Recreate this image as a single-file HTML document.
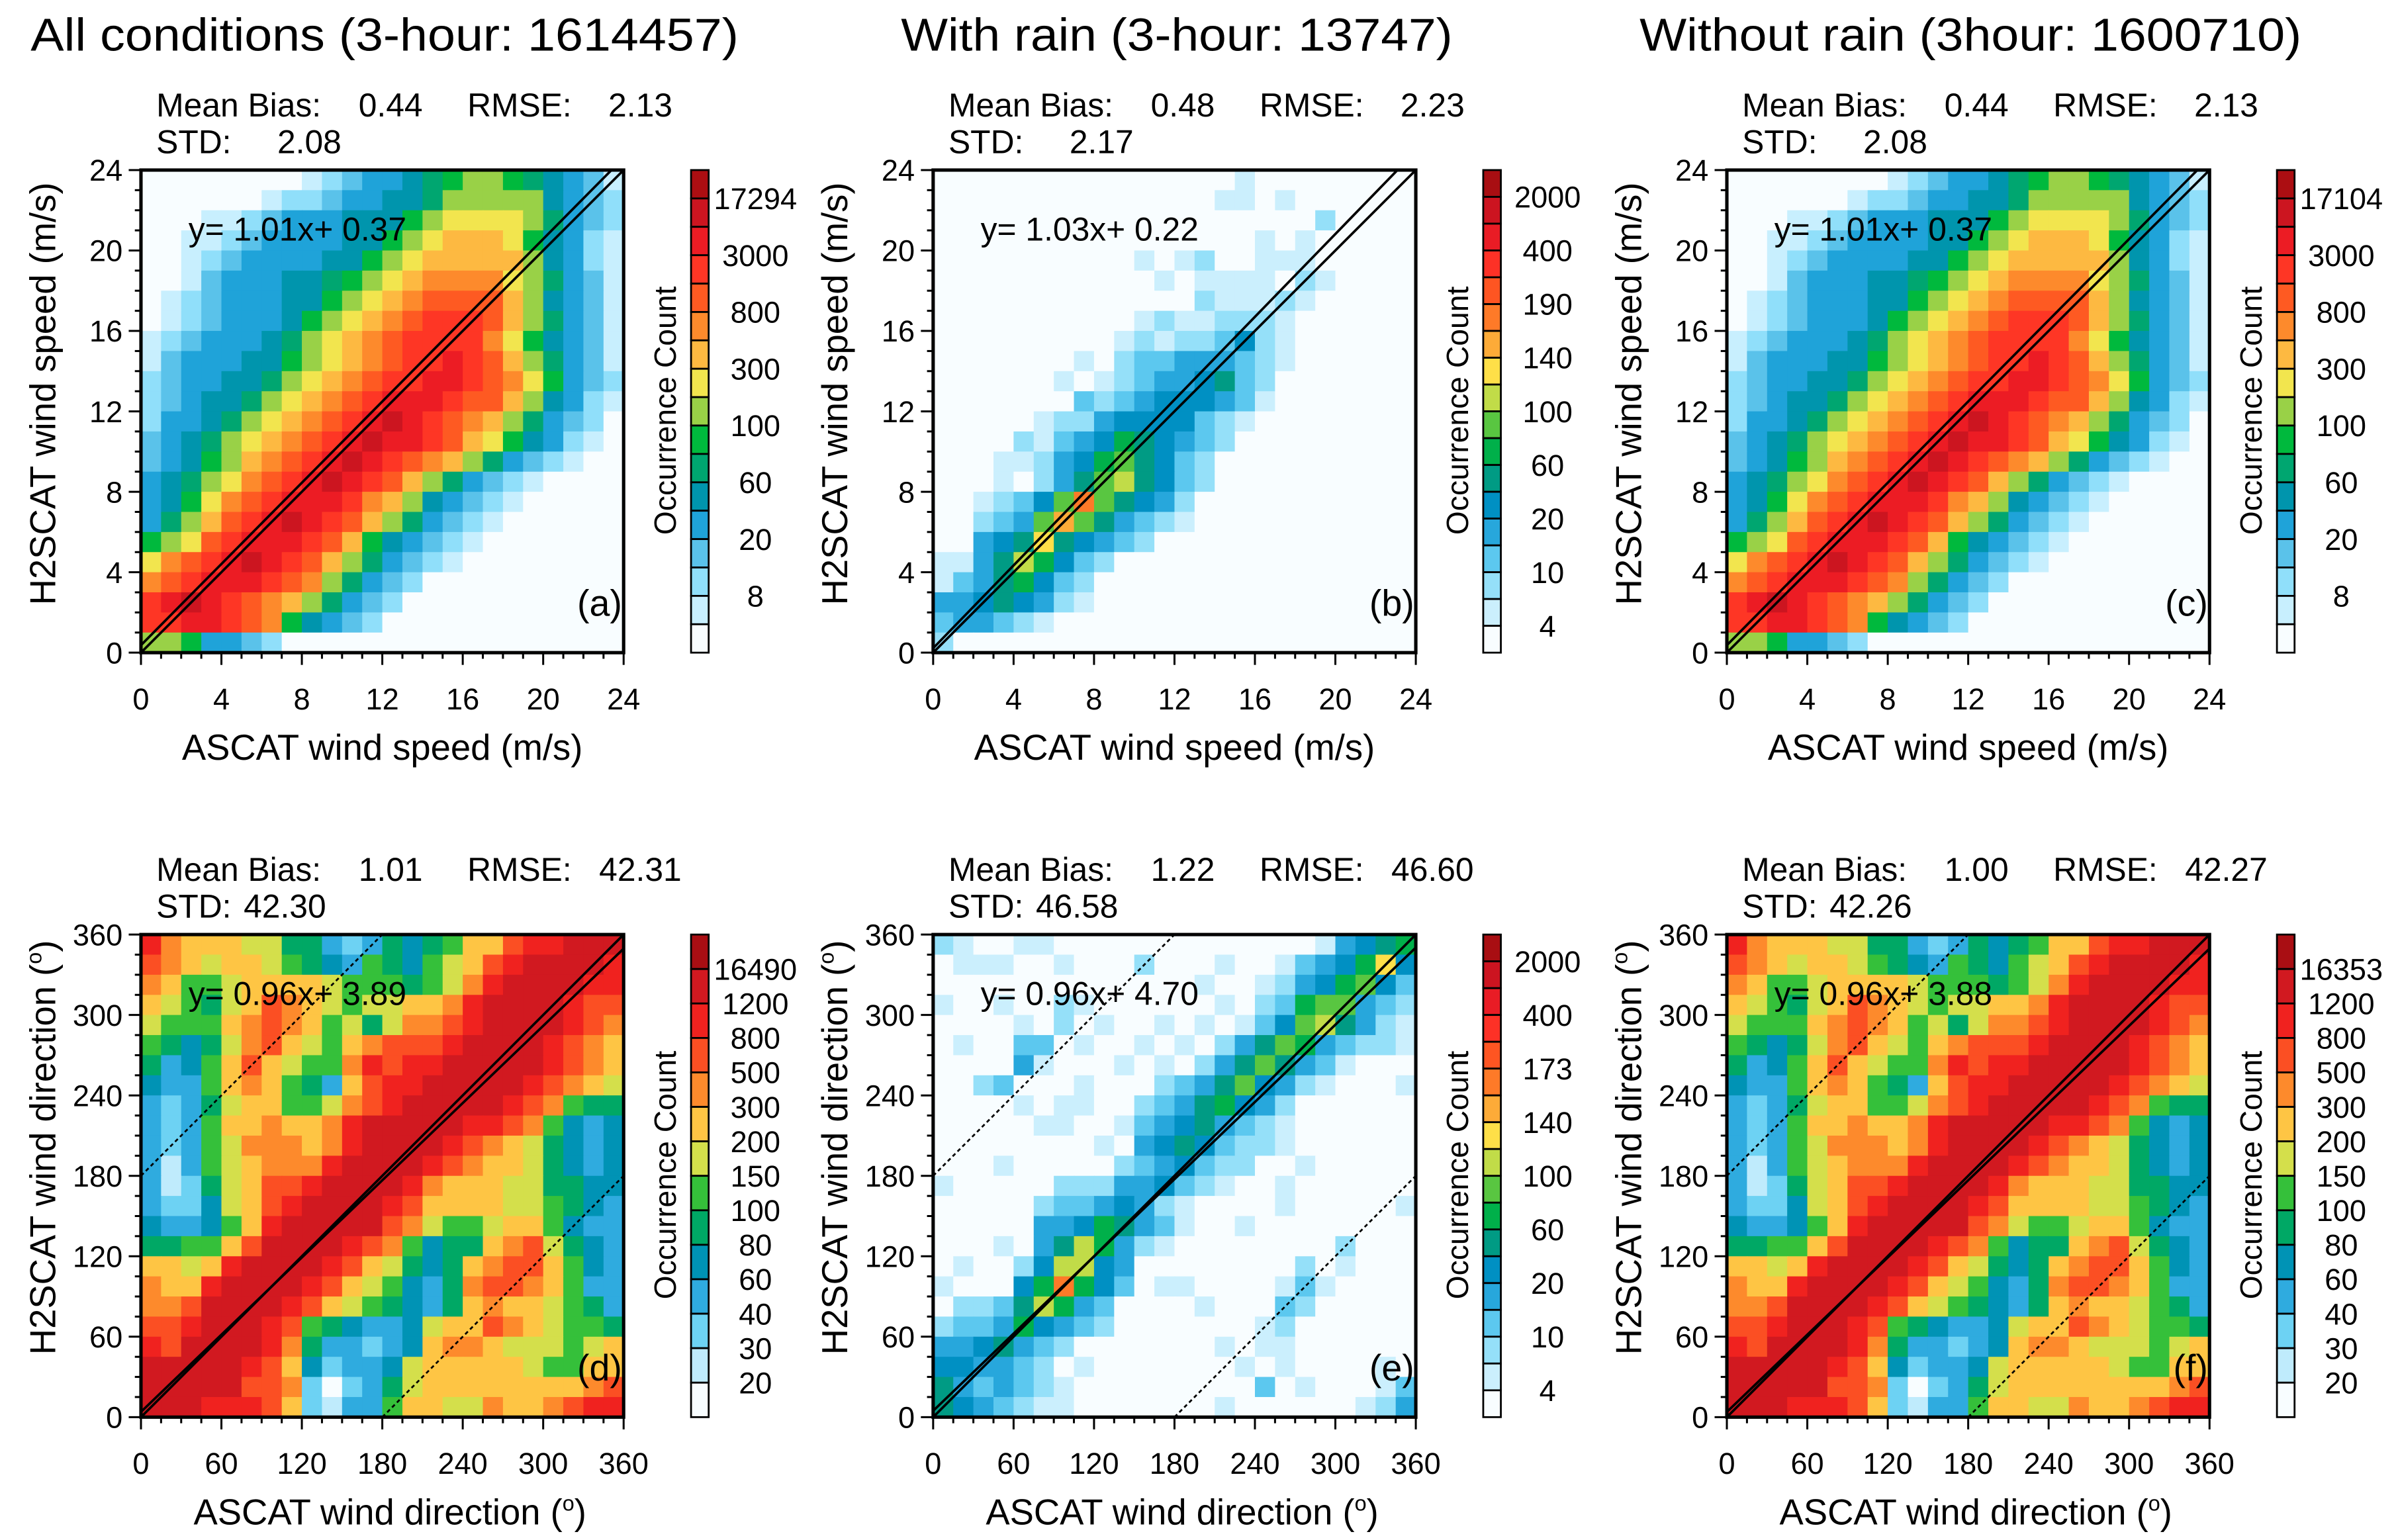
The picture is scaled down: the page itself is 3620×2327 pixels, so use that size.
<!DOCTYPE html>
<html><head><meta charset="utf-8"><title>Wind comparison</title>
<style>
html,body{margin:0;padding:0;background:#fff;}
svg{display:block;}
text{font-family:"Liberation Sans",Arial,sans-serif;fill:#000;}
</style></head>
<body>
<svg id="fig" xmlns="http://www.w3.org/2000/svg" width="3620" height="2327" viewBox="0 0 1563.7 1005.2" preserveAspectRatio="none">
<rect x="0" y="0" width="1563.7" height="1005.2" fill="#fff"/>
</svg>
<script>
// ---- data ----
const speedTicks = [0,4,8,12,16,20,24];
const dirTicks = [0,60,120,180,240,300,360];
const labelsA = ['17294','3000','800','300','100','60','20','8'];
const labelsB = ['2000','400','190','140','100','60','20','10','4'];
const labelsC = ['17104','3000','800','300','100','60','20','8'];
const labelsD = ['16490','1200','800','500','300','200','150','100','80','60','40','30','20'];
const labelsE = ['2000','400','173','140','100','60','20','10','4'];
const labelsF = ['16353','1200','800','500','300','200','150','100','80','60','40','30','20'];
const palSpeed = ['#f8fdff','#c8effe','#90dffa','#5ac2ea','#1fa3d9','#0095ad','#00a670','#00b93d','#99d147','#f2e54e','#fdb941','#fd8a2c','#fe5a22','#fe3625','#ec1c24','#cc1520','#ac0e12'];
const palRain = ['#f8fdff','#cbeffd','#95e0f9','#5cc8ef','#27a7dc','#0090c3','#009b84','#00b04a','#59c641','#c1dc48','#fedf48','#fdab38','#fe7a28','#fe5522','#fd3126','#e91c25','#cc1420','#a80e12'];
const palDir = ['#f8fdff','#bfebfc','#6dd2f3','#2fabdf','#0093b5','#00a865','#35c03a','#d4df4b','#fec544','#fd8a2c','#fb4f23','#f0221f','#d11920','#a90e13'];
// grids: rows from top (highest y bin) to bottom, 24 columns each (hex level codes)
const gridAll = [
"000000001234456788765431","000000122344556888885432","000112344455578999986432","001123444455789aaa975421",
"00123444455789aaaaa85421","0013444556789abbbb986431","012344455789abcccca85431","01234445789abcdddca86431",
"1234445689abcddddb975431","1344455789abcddedca86431","234455689abcddeedcb97432","23455689abcdeeedcca85421",
"2445689abcdefedcba864320","345689abcdefeedca9754210","34578abcdefedcba86432100","45689bcdefedca8643210000",
"4579bcdeeedba85432100000","468acdefedca864321000000","789cdeeedca7543210000000","9bcdefedca86432100000000",
"bcdeeedcb864320000000000","defedcba8643200000000000","ddeedcb75432000000000000","887443200000000000000000"];
const gridRain = [
"000000000000000100000000","000000000000001101000000","000000000000000000020000","000000000000000010100000",
"000000000010120011100000","000000000001011110210000","000000000000021112100000","000000000012112221000000",
"000000000121223521000000","000000010233444321000000","000000101234456320000000","000000032345554310000000",
"000001224555532100000000","000021345765432000000000","000112457865320000000000","000102468965320000000000",
"0012358c8654200000000000","002348b86432100000000000","00456a654320000000000000","114697532000000000000000",
"134675320000000000000000","445654210000000000000000","344321000000000000000000","200000000000000000000000"];
const gridDirAll = [
"b9888775"+"53235456"+"88abbccc","a9878876"+"54365467"+"8abccccb","98667888"+"87666567"+"9bccccbb","876578a9"+"87677889"+"bccccbaa",
"766689a9"+"8675799a"+"bccccba9","654579a8"+"7689aaab"+"ccccba98","53468a87"+"669babbc"+"ccccba98","43368986"+"538abbcc"+"cccba987",
"32357886"+"679abccc"+"ccba9655","32368898"+"89bccccc"+"bba96434","32367999"+"89bccccb"+"a9875434","31367899"+"9bccccba"+"98875434",
"312578aa"+"bccccb98"+"88775544","322478ab"+"ccccba88"+"88776543","433468bc"+"cccca976"+"67886433","55668acc"+"ccba9645"+"589a7543",
"8878bccc"+"cba87545"+"89aa8643","988bcccc"+"ba876435"+"9aa98633","99accccb"+"a8765435"+"89887653","aabcccba"+"65433478"+"8a987665",
"baccccb9"+"53323489"+"98777678","cccccba8"+"42334788"+"88876688","cccccaa9"+"20235788"+"8888889a","cccbbba8"+"21336887"+"79889abb"];
const gridDirRain = [
"21001100"+"00000000"+"00014567","01110010"+"00200010"+"013457a5","00000000"+"00000100"+"12457853","10010021"+"00000010"+"23788432",
"00001020"+"10010101"+"35896421","01003301"+"00101024"+"68743221","00004100"+"01010246"+"86431000","00230001"+"00023468"+"54210001",
"00001011"+"00234675"+"42000000","00000110"+"01345643"+"21000000","00000000"+"10456532"+"21000000","00010000"+"02345322"+"00100000",
"10000022"+"24453210"+"01000000","00000233"+"45421000"+"01000001","00000445"+"76431001"+"00000000","00010469"+"74210000"+"00002000",
"01002599"+"54000000"+"00201000","100057c7"+"53011000"+"01310000","02236974"+"30000100"+"03200000","23347543"+"20000000"+"12000000",
"44564320"+"00000010"+"11000000","55443201"+"00000001"+"01000010","64343210"+"00000000"+"30100013","65432110"+"00000010"+"00000124"];
const regA = [1.01,0.37], regB = [1.03,0.22], regC = [1.01,0.37];
const regD = [0.96,3.89], regE = [0.96,4.70], regF = [0.96,3.88];

// ---- helpers ----
const NS = 'http://www.w3.org/2000/svg';
const svg = document.getElementById('fig');
function mk(tag, attrs, parent){
  const e = document.createElementNS(NS, tag);
  for (const k in attrs) e.setAttribute(k, attrs[k]);
  (parent||svg).appendChild(e); return e;
}
function txt(str, x, y, size, anchor, parent){
  const t = mk('text', {x:x, y:y, 'font-size':size, 'text-anchor':anchor||'start'}, parent);
  t.textContent = str; return t;
}

function panel(cfg){
  const g = mk('g', {});
  
  
  const X0 = cfg.x, Y0 = cfg.y, W = 315, H = 315, max = cfg.max;
  const sx = v => X0 + v / max * W;
  const sy = v => Y0 + H - v / max * H;
  // heatmap
  const hm = mk('g', {}, g);
  
  
  const n = cfg.grid.length, bin = max / n;
  for (let r = 0; r < n; r++){
    const row = cfg.grid[r];
    for (let c = 0; c < n; c++){
      const lev = parseInt(row[c] || '0', 17);
      const yv = (n - 1 - r) * bin, xv = c * bin;
      const cell = mk('rect', {x:sx(xv), y:sy(yv + bin), width:sx(xv+bin)-sx(xv)+0.4, height:sy(yv)-sy(yv+bin)+0.4, fill:cfg.pal[Math.min(lev, cfg.pal.length-1)]}, hm);
      
      
    }
  }
  // lines
  const clip = 'clip-' + cfg.name;
  const cp = mk('clipPath', {id:clip}, g); mk('rect', {x:X0, y:Y0, width:W, height:H}, cp);
  const lg = mk('g', {'clip-path':'url(#'+clip+')'}, g);
  const l1 = mk('line', {x1:sx(0), y1:sy(0), x2:sx(max), y2:sy(max), stroke:'#000', 'stroke-width':1.6}, lg);
  
  
  const l2 = mk('line', {x1:sx(0), y1:sy(cfg.reg[1]), x2:sx(max), y2:sy(cfg.reg[0]*max+cfg.reg[1]), stroke:'#000', 'stroke-width':1.6}, lg);
  
  
  if (cfg.dir){
    const d1 = mk('line', {x1:sx(0), y1:sy(180), x2:sx(180), y2:sy(360), stroke:'#000', 'stroke-width':1.2, 'stroke-dasharray':'2.5,2'}, lg);
    
    
    const d2 = mk('line', {x1:sx(180), y1:sy(0), x2:sx(360), y2:sy(180), stroke:'#000', 'stroke-width':1.2, 'stroke-dasharray':'2.5,2'}, lg);
    
    
  }
  // frame
  const fr = mk('rect', {x:X0, y:Y0, width:W, height:H, fill:'none', stroke:'#000', 'stroke-width':2.2}, g);
  
  
  // ticks
  const minor = cfg.dir ? 15 : 1;
  for (let v = 0; v <= max + 1e-9; v += minor){
    const major = cfg.ticks.indexOf(v) >= 0;
    const L = major ? 8 : 4;
    mk('line', {x1:sx(v), y1:Y0+H, x2:sx(v), y2:Y0+H+L, stroke:'#000', 'stroke-width':1.3}, g);
    mk('line', {x1:X0, y1:sy(v), x2:X0-L, y2:sy(v), stroke:'#000', 'stroke-width':1.3}, g);
  }
  cfg.ticks.forEach(v => {
    const a = txt(String(v), sx(v), Y0+H+37, 19.5, 'middle', g);
    
    
    const b = txt(String(v), X0-12, sy(v)+7, 19.5, 'end', g);
    
    
  });
  // axis titles
  const xt = txt(cfg.xtitle, X0 + W/2 + (cfg.dir?5:0), Y0+H+70, 23.5, 'middle', g);
  
  
  const ycx = X0 - 56, ycy = Y0 + (cfg.dir ? 139 : 146);
  const yt = mk('text', {x:ycx, y:ycy, 'font-size':23.5, 'text-anchor':'middle', transform:'rotate(-90 '+ycx+' '+ycy+')'}, g);
  
  
  if (cfg.dir){
    yt.textContent = 'H2SCAT wind direction (';
    const s = mk('tspan', {'font-size':14, dy:-9}, yt); s.textContent = 'o';
    const e = mk('tspan', {dy:9}, yt); e.textContent = ')';
    xt.textContent = 'ASCAT wind direction (';
    const s2 = mk('tspan', {'font-size':14, dy:-9}, xt); s2.textContent = 'o';
    const e2 = mk('tspan', {dy:9}, xt); e2.textContent = ')';
  } else yt.textContent = 'H2SCAT wind speed (m/s)';
  // equation & panel letter
  const eq = txt('y= ' + cfg.reg[0].toFixed(2) + 'x+ ' + cfg.reg[1].toFixed(2), X0+31, Y0+46, 21.5, 'start', g);
  
  
  const pl = txt('(' + cfg.letter + ')', X0+W-1, Y0+H-24, 24, 'end', g);
  
  
  // stats
  const st = mk('g', {}, g);
  
  
  txt('Mean Bias:', X0+10, Y0-35, 21.5, 'start', st);
  txt(cfg.bias, X0+142, Y0-35, 21.5, 'start', st);
  txt('RMSE:', X0+213, Y0-35, 21.5, 'start', st);
  txt(cfg.rmse, X0 + (cfg.dir?299:305), Y0-35, 21.5, 'start', st);
  txt('STD:', X0+10, Y0-11, 21.5, 'start', st);
  txt(cfg.std, X0 + (cfg.dir?67:89), Y0-11, 21.5, 'start', st);
  // colorbar
  const cb = mk('g', {}, g);
  
  
  const CX = X0 + 359, CW = 11.5, nb = cfg.pal.length, bh = H / nb;
  for (let i = 0; i < nb; i++){
    const b = mk('rect', {x:CX, y:Y0 + i*bh, width:CW, height:bh, fill:cfg.pal[nb-1-i], stroke:'#000', 'stroke-width':1.2}, cb);
    
    
  }
  const step = (cfg.cblabels.length * 2 <= nb) ? 2 : 1;
  cfg.cblabels.forEach((s, i) => {
    const bi = 1 + i*step;
    const t = txt(s, CX + 42, Y0 + bi*bh + 7, 19.5, 'middle', cb);
    
    
  });
  const ox = CX - 10, oy = Y0 + 157;
  const ct = mk('text', {x:ox, y:oy, 'font-size':20, 'text-anchor':'middle', transform:'rotate(-90 '+ox+' '+oy+')'}, cb);
  ct.textContent = 'Occurrence Count';
  
  
}

// titles
[['All conditions (3-hour: 1614457)', 20, 462],['With rain (3-hour: 13747)', 588, 360],['Without rain (3hour: 1600710)', 1070, 432]].forEach(t => {
  const e = mk('text', {x:t[1], y:33, 'font-size':30, textLength:t[2], lengthAdjust:'spacingAndGlyphs'});
  e.textContent = t[0];
  
  
});

panel({name:'panel-a', letter:'a', x:92, y:111, max:24, ticks:speedTicks, grid:gridAll, pal:palSpeed, reg:regA, cblabels:labelsA, xtitle:'ASCAT wind speed  (m/s)', bias:'0.44', rmse:'2.13', std:'2.08'});
panel({name:'panel-b', letter:'b', x:609, y:111, max:24, ticks:speedTicks, grid:gridRain, pal:palRain, reg:regB, cblabels:labelsB, xtitle:'ASCAT wind speed  (m/s)', bias:'0.48', rmse:'2.23', std:'2.17'});
panel({name:'panel-c', letter:'c', x:1127, y:111, max:24, ticks:speedTicks, grid:gridAll, pal:palSpeed, reg:regC, cblabels:labelsC, xtitle:'ASCAT wind speed (m/s)', bias:'0.44', rmse:'2.13', std:'2.08'});
panel({name:'panel-d', letter:'d', x:92, y:610, max:360, dir:true, ticks:dirTicks, grid:gridDirAll, pal:palDir, reg:regD, cblabels:labelsD, xtitle:'', bias:'1.01', rmse:'42.31', std:'42.30'});
panel({name:'panel-e', letter:'e', x:609, y:610, max:360, dir:true, ticks:dirTicks, grid:gridDirRain, pal:palRain, reg:regE, cblabels:labelsE, xtitle:'', bias:'1.22', rmse:'46.60', std:'46.58'});
panel({name:'panel-f', letter:'f', x:1127, y:610, max:360, dir:true, ticks:dirTicks, grid:gridDirAll, pal:palDir, reg:regF, cblabels:labelsF, xtitle:'', bias:'1.00', rmse:'42.27', std:'42.26'});
</script>
</body></html>
